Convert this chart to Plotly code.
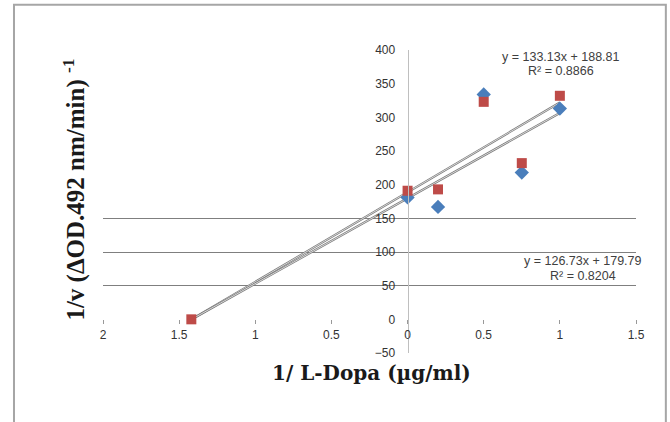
import plotly.graph_objects as go

# Data
x_blue = [0.0, 0.2, 0.5, 0.75, 1.0]
y_blue = [181, 167, 334, 218, 313]
x_red = [-1.42, 0.0, 0.2, 0.5, 0.75, 1.0]
y_red = [0, 191, 193, 323, 232, 332]

# Trendline coefficients from the chart labels
slope_blue, icpt_blue = 126.73, 179.79
slope_red, icpt_red = 133.13, 188.81
trend_x = [-1.42, 1.0]

x_tickvals = [-2, -1.5, -1, -0.5, 0, 0.5, 1, 1.5]
x_ticktext = ["2", "1.5", "1", "0.5", "0", "0.5", "1", "1.5"]
y_tickvals = [-50, 0, 50, 100, 150, 200, 250, 300, 350, 400]
y_gridvals = [-50, 50, 100, 150]

XR = [-2, 1.5]
YR = [-50, 400]

fig = go.Figure()

for s, b in [(slope_red, icpt_red), (slope_blue, icpt_blue)]:
    ty = [s * v + b for v in trend_x]
    fig.add_trace(go.Scatter(x=trend_x, y=ty, mode="lines",
                             line=dict(color="#7a7a7a", width=2.2),
                             hoverinfo="skip", showlegend=False))
    fig.add_trace(go.Scatter(x=trend_x, y=ty, mode="lines",
                             line=dict(color="#ffffff", width=0.7),
                             hoverinfo="skip", showlegend=False))

fig.add_trace(go.Scatter(x=x_blue, y=y_blue, mode="markers",
                         marker=dict(symbol="diamond", size=11, color="#4a7ebb"),
                         showlegend=False))
fig.add_trace(go.Scatter(x=x_red, y=y_red, mode="markers",
                         marker=dict(symbol="square", size=10, color="#be4b48"),
                         showlegend=False))
# dummy trace so the overlay axis renders
fig.add_trace(go.Scatter(x=[0], y=[0], yaxis="y2", mode="markers",
                         marker=dict(opacity=0), showlegend=False,
                         hoverinfo="skip"))

ann_font = dict(family="Liberation Sans, Arial", size=12.5, color="#404040")
fig.add_annotation(x=1.005, y=390, text="y = 133.13x + 188.81", showarrow=False, font=ann_font)
fig.add_annotation(x=1.005, y=369, text="R² = 0.8866", showarrow=False, font=ann_font)
fig.add_annotation(x=1.15, y=86, text="y = 126.73x + 179.79", showarrow=False, font=ann_font)
fig.add_annotation(x=1.15, y=65, text="R² = 0.8204", showarrow=False, font=ann_font)

# axis titles as annotations
title_font_x = dict(family="DejaVu Serif, Liberation Serif", size=20, color="#1a1a1a")
title_font_y = dict(family="Liberation Serif, Times New Roman", size=25, color="#1a1a1a")
fig.add_annotation(xref="paper", yref="paper", x=0.503, y=-0.065,
                   xanchor="center", yanchor="middle",
                   text="<b>1/ L-Dopa (µg/ml)</b>", showarrow=False, font=title_font_x)
fig.add_annotation(xref="paper", yref="paper", x=-0.054, y=0.54, textangle=-90,
                   xanchor="center", yanchor="middle",
                   text="<b>1/v (ΔOD.492 nm/min) <sup>-1</sup></b>", showarrow=False,
                   font=title_font_y)

# outer chart border
fig.add_shape(type="rect", xref="paper", yref="paper",
              x0=-0.167, x1=1.056, y0=-0.3, y1=1.149,
              line=dict(color="#a6a6a6", width=2), layer="below")

tick_font = dict(family="Liberation Sans, Arial", size=12, color="#333333")

fig.update_layout(
    width=670, height=422,
    margin=dict(l=103, r=34, t=50, b=69),
    paper_bgcolor="white", plot_bgcolor="white",
    xaxis=dict(range=XR, tickvals=x_tickvals, ticktext=x_ticktext,
               anchor="free", position=(0 - YR[0]) / (YR[1] - YR[0]),
               showgrid=False, zeroline=False, showline=False,
               ticks="outside", ticklen=4, tickcolor="#999999",
               tickfont=tick_font),
    yaxis=dict(range=YR, tickvals=y_gridvals, showticklabels=False,
               showgrid=True, gridcolor="#7f7f7f", gridwidth=1,
               zeroline=False, showline=False),
    yaxis2=dict(range=YR, overlaying="y", anchor="free",
                position=(0 - XR[0]) / (XR[1] - XR[0]),
                tickvals=y_tickvals, showgrid=False, zeroline=False,
                showline=True, linecolor="#bfbfbf", linewidth=1,
                ticks="", ticklabelstandoff=10, tickfont=tick_font),
)

fig.write_html("out.html")
